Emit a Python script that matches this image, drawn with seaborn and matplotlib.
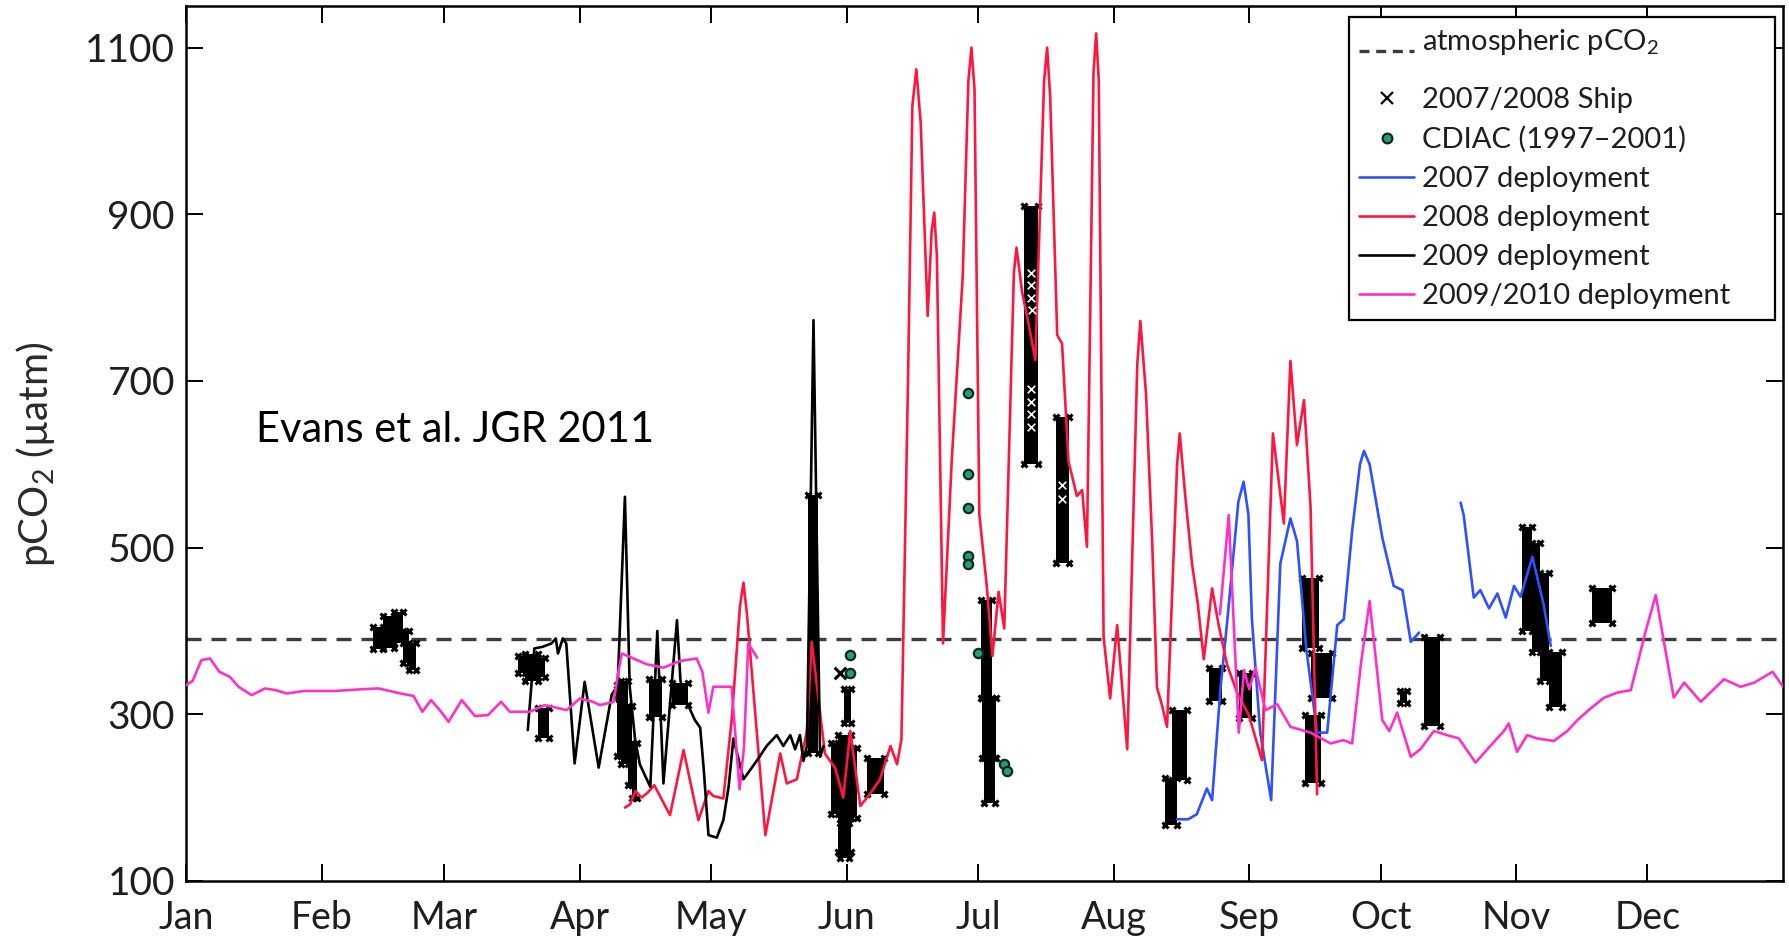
import numpy as np
import pandas as pd
import matplotlib
matplotlib.use("Agg")
import matplotlib.pyplot as plt
from matplotlib.lines import Line2D
import seaborn as sns

# ---------------- data (x = day of year, y = pCO2 in uatm) ----------------
month_labels = ["Jan", "Feb", "Mar", "Apr", "May", "Jun",
                "Jul", "Aug", "Sep", "Oct", "Nov", "Dec"]
month_start_day = [0, 31, 59, 90, 120, 151, 181, 212, 243, 273, 304, 334]
y_ticks = [100, 300, 500, 700, 900, 1100]
atm_pco2 = 390

# 2007 deployment (two pieces)
dep2007_a_day = [226.5, 229.0, 231.0, 233.3, 234.5, 236.4, 238.0, 240.5, 241.7,
                 242.8, 243.6, 245.5, 248.0, 250.1, 252.4, 253.9, 256.0, 258.5,
                 260.8, 263.1, 264.6, 266.5, 268.3, 269.2, 270.5, 273.4, 276.0,
                 278.0, 279.9, 281.8]
dep2007_a_pco2 = [174, 174, 180, 211, 197, 330, 414, 555, 579,
                  540, 414, 278, 197, 481, 535, 508, 380, 278,
                  278, 407, 414, 520, 600, 616, 600, 512, 454,
                  449, 387, 398]
dep2007_b_day = [291.3, 292.0, 294.3, 295.8, 297.8, 299.7, 301.6, 303.5, 305.0,
                 307.7, 310.3, 311.9]
dep2007_b_pco2 = [554, 539, 440, 449, 427, 445, 416, 454, 441,
                  489, 431, 382]

# 2008 deployment
dep2008_day = [100.3, 101.5, 102.7, 104.1, 105.5, 107.0, 108.5, 110.6, 113.7,
               117.1, 119.4, 120.5, 122.8, 124.7, 126.6, 127.4, 128.2, 132.4,
               135.8, 137.3, 139.6, 141.9, 143.0, 146.0, 148.4, 150.2, 151.8,
               154.1, 156.4, 158.6, 161.0, 162.5, 163.5, 165.0, 166.0, 166.9,
               167.9, 169.5, 170.4, 171.0, 171.6, 173.0, 175.0, 177.5, 178.8,
               179.5, 180.2, 181.3, 183.0, 184.3, 185.7, 187.0, 189.2, 189.8,
               191.1, 192.5, 194.1, 196.1, 196.8, 197.5, 199.1, 200.2, 201.7,
               203.6, 204.8, 205.9, 207.4, 208.0, 208.6, 209.7, 211.2, 212.8,
               215.1, 217.4, 218.1, 219.4, 220.8, 221.9, 223.0, 224.2, 226.5,
               227.1, 228.4, 229.9, 231.2, 232.6, 234.5, 236.0, 237.9, 240.2,
               242.9, 245.9, 248.4, 250.9, 252.4, 253.9, 255.5, 257.0, 258.5]
dep2008_pco2 = [188, 192, 208, 200, 206, 215, 200, 179, 257,
                173, 208, 202, 199, 293, 430, 458, 420, 155,
                253, 217, 222, 280, 387, 253, 235, 200, 280,
                190, 205, 222, 262, 240, 270, 700, 1030, 1074,
                1010, 778, 880, 902, 850, 385, 605, 825, 1060,
                1100, 1050, 540, 454, 370, 447, 403, 830, 860,
                806, 770, 725, 1060, 1100, 1040, 755, 745, 603,
                562, 569, 501, 1070, 1117, 1060, 393, 319, 407,
                258, 720, 772, 684, 508, 332, 312, 285, 600,
                637, 560, 481, 434, 366, 451, 407, 360, 326,
                299, 245, 637, 529, 724, 623, 677, 549, 204]

# 2009 deployment
dep2009_day = [78.1, 79.6, 81.5, 83.5, 84.5, 85.0, 86.1, 86.9, 88.8, 91.1,
               94.3, 97.3, 98.0, 98.5, 100.3, 101.4, 102.6, 103.7, 105.3,
               106.1, 107.7, 109.1, 112.2, 113.0, 114.4, 116.3, 117.5, 118.3,
               119.4, 121.3, 122.8, 124.0, 125.1, 127.4, 130.4, 132.7, 135.0,
               136.5, 138.1, 139.2, 140.3, 141.1, 141.9, 143.4, 144.9, 145.7]
dep2009_pco2 = [281, 379, 381, 385, 391, 373, 391, 385, 241, 339,
                236, 324, 329, 315, 561, 333, 271, 240, 222,
                213, 400, 217, 413, 340, 315, 293, 284, 235,
                155, 152, 173, 213, 271, 222, 244, 262, 275,
                262, 275, 258, 275, 244, 262, 773, 249, 262]

# 2009/2010 deployment (two pieces)
dep0910_a_day = [0.0, 1.5, 3.5, 5.5, 7.6, 10.0, 12.0, 15.0, 18.0, 20.5, 23.0,
                 27.0, 34.0, 40.0, 44.0, 49.0, 52.0, 54.0, 56.0, 58.0, 60.0,
                 63.0, 66.0, 69.0, 72.0, 74.0, 78.5, 82.0, 87.0, 90.0, 93.0,
                 94.6, 97.7, 98.8, 99.6, 105.3, 109.1, 112.9, 116.7, 118.0,
                 119.4, 120.5, 124.7, 126.5, 127.5, 128.5, 130.5]
dep0910_a_pco2 = [335, 340, 365, 367, 351, 345, 333, 323, 331, 329, 325,
                  328, 328, 330, 331, 325, 322, 303, 317, 305, 291,
                  317, 298, 299, 315, 303, 303, 311, 305, 319, 315,
                  311, 315, 351, 373, 360, 356, 364, 367, 351,
                  302, 333, 333, 210, 260, 385, 368]
dep0910_b_day = [236.3, 238.3, 240.6, 241.8, 243.0, 244.4, 246.7, 249.4, 252.4,
                 257.0, 261.6, 264.5, 266.5, 268.5, 270.5, 273.4, 275.0, 276.8,
                 279.9, 282.1, 285.2, 288.2, 290.9, 294.7, 297.4, 301.2, 302.3,
                 304.2, 306.5, 308.8, 312.6, 315.7, 318.0, 321.0, 324.1, 327.1,
                 330.2, 333.6, 335.9, 338.0, 340.0, 342.4, 346.2, 351.5, 355.3,
                 358.4, 362.6, 365.0]
dep0910_b_pco2 = [420, 539, 278, 353, 330, 356, 305, 312, 285,
                  278, 265, 269, 265, 360, 436, 293, 280, 302,
                  249, 258, 280, 275, 271, 242, 258, 280, 289,
                  255, 275, 271, 268, 280, 293, 307, 320, 326,
                  329, 400, 443, 380, 320, 338, 315, 342, 333,
                  338, 351, 333]

# 2007/2008 ship underway data: blocks (day range, pCO2 range)
ship_day_lo = [42.7, 45.0, 47.5, 49.5, 51.0,
               75.8, 77.5, 80.5, 80.5,
               98.4, 99.5, 101.0, 102.0, 105.7, 111.0,
               142.2, 147.5, 149.0, 149.5, 152.0, 150.3, 155.6,
               181.7, 182.0, 182.3, 191.6, 198.9,
               223.8, 225.3, 233.7, 240.6, 255.0, 257.2, 255.8,
               277.5, 283.0, 305.4, 307.5, 309.5, 311.5, 321.4]
ship_day_hi = [45.0, 47.5, 49.5, 51.0, 52.6,
               77.5, 80.5, 82.0, 83.0,
               99.5, 101.0, 102.0, 103.0, 108.7, 114.8,
               144.5, 149.0, 152.0, 151.5, 153.3, 152.0, 159.4,
               184.3, 185.0, 184.8, 194.6, 201.7,
               226.5, 228.8, 236.8, 243.6, 259.0, 262.0, 259.5,
               279.0, 286.7, 307.5, 309.5, 311.5, 314.5, 326.0]
ship_lo = [378, 380, 385, 362, 353,
           350, 340, 345, 271,
           250, 240, 215, 200, 297, 311,
           253, 180, 135, 128, 175, 290, 204,
           319, 248, 194, 600, 481,
           167, 221, 316, 295, 380, 319, 218,
           313, 286, 400, 375, 340, 309, 409]
ship_hi = [405, 418, 423, 400, 385,
           370, 372, 368, 307,
           335, 340, 310, 265, 342, 338,
           563, 265, 275, 170, 260, 330, 248,
           437, 319, 248, 910, 657,
           224, 305, 356, 349, 464, 373, 299,
           328, 393, 525, 505, 470, 375, 451]
# single ship samples
ship_pt_day = [149.4]
ship_pt_pco2 = [350]
# light (white) ship samples inside the dark blocks
ship_light_day = [193.0, 193.0, 193.0, 193.3, 193.0, 193.0, 193.0, 193.0, 200.3, 200.3]
ship_light_pco2 = [830, 815, 800, 785, 690, 675, 660, 645, 575, 558]

# CDIAC climatology (1997-2001)
cdiac_day = [151.8, 151.8, 178.6, 178.6, 178.6, 178.6, 178.6, 180.9, 187.0, 187.6]
cdiac_pco2 = [371, 350, 685, 588, 548, 490, 480, 374, 240, 232]

# ---------------- styling ----------------
sns.set_theme(style="ticks")
plt.rcParams["font.family"] = ["Lato", "DejaVu Sans"]
plt.rcParams["mathtext.fontset"] = "custom"
plt.rcParams["mathtext.rm"] = "Lato"
plt.rcParams["mathtext.it"] = "Lato:italic"
plt.rcParams["mathtext.bf"] = "Lato:bold"

c_blue = "#3050ff"
c_red = "#ff1640"
c_black = "#000000"
c_mag = "#ff30c8"
lw = 1.9
txt = "#1e1e1e"


def segments(parts):
    rows = []
    for k, (d, v) in enumerate(parts):
        rows.append(pd.DataFrame({"day": d, "pco2": v, "seg": k}))
    return pd.concat(rows, ignore_index=True)


fig = plt.figure(figsize=(17.89, 9.40), dpi=100)
ax = fig.add_axes([0.1040, 0.0628, 0.8927, 0.9309])

# atmospheric reference level
ax.axhline(atm_pco2, color="#3c3c3c", lw=2.4, ls=(0, (4.5, 3)), zorder=1)

# ship blocks
s_lo_d = np.array(ship_day_lo)
s_hi_d = np.array(ship_day_hi)
s_lo = np.array(ship_lo)
s_hi = np.array(ship_hi)
ax.bar((s_lo_d + s_hi_d) / 2, s_hi - s_lo, bottom=s_lo, width=s_hi_d - s_lo_d,
       color="black", linewidth=0, zorder=2)
corner_d = np.concatenate([s_lo_d, s_hi_d, s_lo_d, s_hi_d])
corner_v = np.concatenate([s_hi, s_hi, s_lo, s_lo])
ax.plot(corner_d, corner_v, ls="none", marker="x", ms=5, mew=2.2,
        color="black", zorder=2)

# deployments
series = [
    ([(dep2007_a_day, dep2007_a_pco2), (dep2007_b_day, dep2007_b_pco2)], c_blue),
    ([(dep2008_day, dep2008_pco2)], c_red),
    ([(dep2009_day, dep2009_pco2)], c_black),
    ([(dep0910_a_day, dep0910_a_pco2), (dep0910_b_day, dep0910_b_pco2)], c_mag),
]
for parts, col in series:
    df = segments(parts)
    sns.lineplot(data=df, x="day", y="pco2", units="seg", estimator=None,
                 sort=False, color=col, lw=lw, ax=ax, zorder=3, legend=False,
                 solid_joinstyle="round")

# point samples
sns.scatterplot(x=ship_pt_day, y=ship_pt_pco2, marker="x", s=70, color="black",
                linewidth=2.2, ax=ax, zorder=4, legend=False)
sns.scatterplot(x=ship_light_day, y=ship_light_pco2, marker="x", s=30,
                color="white", linewidth=1.2, ax=ax, zorder=4, legend=False)
sns.scatterplot(x=cdiac_day, y=cdiac_pco2, marker="o", s=45, color="#2a9a72",
                edgecolor="#0d2a1e", linewidth=1.6, ax=ax, zorder=5, legend=False)

# axes
ax.set_xlim(0, 365)
ax.set_ylim(100, 1150)
ax.set_xticks(month_start_day)
ax.set_xticklabels(month_labels, fontsize=27, color=txt)
ax.set_yticks(y_ticks)
ax.set_yticklabels([str(t) for t in y_ticks], fontsize=28, color=txt)
ax.tick_params(direction="in", length=12, width=1.4, top=True, right=True,
               colors="black")
ax.tick_params(axis="y", pad=8, labelcolor=txt)
ax.tick_params(axis="x", pad=14, labelcolor=txt)
for sp in ax.spines.values():
    sp.set_linewidth(1.8)
    sp.set_color("black")
ax.set_xlabel("")
ax.set_ylabel(r"pCO$_\mathregular{2}$ (µatm)", fontsize=29, color="#2a2a2a")
ax.yaxis.set_label_coords(-0.081, 0.488)

ax.text(0.044, 0.502, "Evans et al. JGR 2011", transform=ax.transAxes,
        fontsize=30, ha="left", va="baseline", color="black")

# legend
handles = [
    Line2D([], [], color="#3c3c3c", lw=2.4, ls=(0, (3, 2))),
    Line2D([], [], ls="none", marker="x", ms=8, mew=1.6, color="black"),
    Line2D([], [], ls="none", marker="o", ms=7, mew=1.6, mfc="#2a9a72", mec="#0d2a1e"),
    Line2D([], [], color=c_blue, lw=lw),
    Line2D([], [], color=c_red, lw=lw),
    Line2D([], [], color=c_black, lw=lw),
    Line2D([], [], color=c_mag, lw=lw),
]
labels = ["atmospheric pCO$_\\mathregular{2}$\n", "2007/2008 Ship", "CDIAC (1997–2001)",
          "2007 deployment", "2008 deployment", "2009 deployment",
          "2009/2010 deployment"]
leg = ax.legend(handles, labels, loc="upper left",
                bbox_to_anchor=(0.7225, 0.0, 0.278, 0.9974), mode="expand",
                prop={"family": "Lato", "size": 21}, frameon=True, fancybox=False,
                framealpha=1, edgecolor="black", borderaxespad=0.3,
                handlelength=1.9, handletextpad=0.25, labelspacing=0.45,
                borderpad=0.35)
leg.get_frame().set_linewidth(1.6)
for t in leg.get_texts():
    t.set_color(txt)
leg.get_texts()[0].set_linespacing(0.55)

fig.savefig("out.png", dpi=100, facecolor="white")
